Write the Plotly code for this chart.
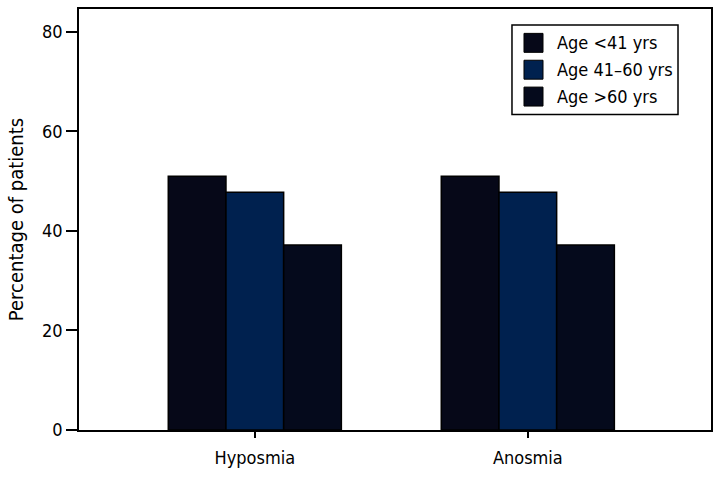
import plotly.graph_objects as go

categories = ["Hyposmia", "Anosmia"]
series_names = ["Age <41 yrs", "Age 41\u201360 yrs", "Age >60 yrs"]
age_lt41 = [51.0, 51.0]
age_41_60 = [47.8, 47.8]
age_gt60 = [37.2, 37.2]
series_values = [age_lt41, age_41_60, age_gt60]
colors = ["#060818", "#00214f", "#050a1c"]

FONT = "DejaVu Sans Condensed, Liberation Sans Narrow, sans-serif"

fig = go.Figure()
for name, vals, c in zip(series_names, series_values, colors):
    fig.add_trace(go.Bar(
        x=categories, y=vals, name=name, showlegend=False,
        marker=dict(color=c, line=dict(color="#000000", width=1.5)),
    ))

# Custom legend (box, swatches, labels) in paper coordinates
shapes = [dict(
    type="rect", xref="paper", yref="paper",
    x0=0.6851, x1=0.9478, y0=0.7494, y1=0.9622,
    line=dict(color="#000000", width=1.5), fillcolor="white", layer="above",
)]
annotations = []
row_centers = [0.9196, 0.8558, 0.7920]
half = 0.0225
for name, c, yc in zip(series_names, colors, row_centers):
    shapes.append(dict(
        type="rect", xref="paper", yref="paper",
        x0=0.7041, x1=0.7342, y0=yc - half, y1=yc + half,
        line=dict(color="#000000", width=1), fillcolor=c, layer="above",
    ))
    annotations.append(dict(
        text=name, xref="paper", yref="paper", x=0.7532, y=yc,
        xanchor="left", yanchor="middle", showarrow=False,
        font=dict(family=FONT, size=18, color="#000000"),
    ))

fig.update_layout(
    width=720, height=480,
    margin=dict(l=79, r=9, t=7, b=50),
    paper_bgcolor="white", plot_bgcolor="white",
    barmode="group", bargap=0.366, bargroupgap=0,
    font=dict(family=FONT, size=18, color="#000000"),
    showlegend=False,
    shapes=shapes,
    annotations=annotations,
    xaxis=dict(
        range=[-0.644, 1.671],
        showline=True, linecolor="#000000", linewidth=1.5,
        mirror=True, ticks="outside", ticklen=6, tickwidth=1.5,
        tickcolor="#000000", showgrid=False,
        tickfont=dict(family=FONT, size=18),
        ticklabelstandoff=5,
    ),
    yaxis=dict(
        range=[0, 84.6],
        tickvals=[0, 20, 40, 60, 80],
        showline=True, linecolor="#000000", linewidth=1.5,
        mirror=True, ticks="outside", ticklen=11, tickwidth=1.5,
        tickcolor="#000000", showgrid=False, zeroline=False,
        tickfont=dict(family=FONT, size=18),
        title=dict(text="Percentage of patients", font=dict(family=FONT, size=20), standoff=13),
    ),
)

fig.write_html("out.html", config={"displayModeBar": False},
               post_script="document.body.style.margin='0';")
